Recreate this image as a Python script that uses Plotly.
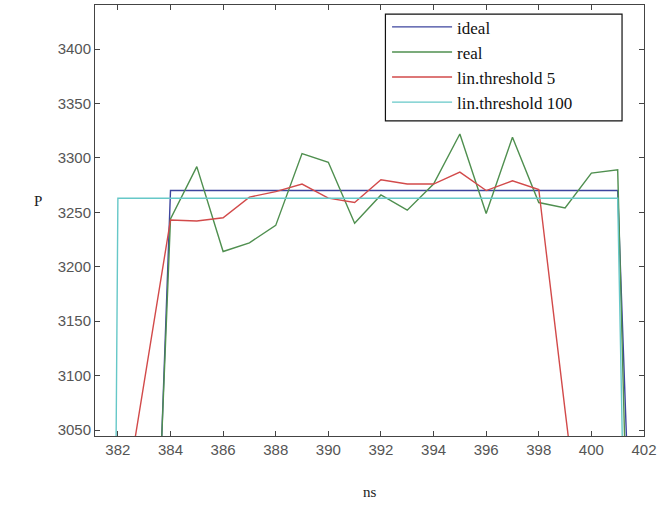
import plotly.graph_objects as go

# ---- data ----
ideal_x = [383, 384, 385, 386, 387, 388, 389, 390, 391, 392, 393, 394, 395, 396, 397, 398, 399, 400, 401, 402]
ideal_y = [2590, 3270, 3270, 3270, 3270, 3270, 3270, 3270, 3270, 3270, 3270, 3270, 3270, 3270, 3270, 3270, 3270, 3270, 3270, 2590]

real_x = [383, 384, 385, 386, 387, 388, 389, 390, 391, 392, 393, 394, 395, 396, 397, 398, 399, 400, 401, 402]
real_y = [2640, 3244, 3292, 3214, 3222, 3238, 3304, 3296, 3240, 3266, 3252, 3276, 3322, 3249, 3319, 3259, 3254, 3286, 3289, 2350]

lin5_x = [382, 383, 384, 385, 386, 387, 388, 389, 390, 391, 392, 393, 394, 395, 396, 397, 398, 399, 400]
lin5_y = [2945, 3094, 3243, 3242, 3245, 3264, 3269, 3276, 3263, 3259, 3280, 3276, 3276, 3287, 3270, 3279, 3271, 3068, 2870]

lin100_x = [381, 382, 383, 384, 385, 386, 387, 388, 389, 390, 391, 392, 393, 394, 395, 396, 397, 398, 399, 400, 401, 402]
lin100_y = [0, 3263, 3263, 3263, 3263, 3263, 3263, 3263, 3263, 3263, 3263, 3263, 3263, 3263, 3263, 3263, 3263, 3263, 3263, 3263, 3263, 2000]

x_ticks = list(range(382, 403, 2))
y_ticks = list(range(3050, 3401, 50))

names = ["ideal", "real", "lin.threshold 5", "lin.threshold 100"]
colors = ["#3d449e", "#4f8f4f", "#d24a4a", "#66c8c8"]

SERIF = "Liberation Serif"

fig = go.Figure()
series = [(ideal_x, ideal_y), (real_x, real_y), (lin5_x, lin5_y), (lin100_x, lin100_y)]
for (xs, ys), name, col in zip(series, names, colors):
    fig.add_trace(go.Scatter(x=xs, y=ys, mode="lines", name=name,
                             line=dict(color=col, width=1.4)))

axis_common = dict(
    showgrid=False, zeroline=False, showline=True, linecolor="#444", linewidth=1,
    mirror="allticks", ticks="inside", ticklen=5, tickcolor="#444",
    tickfont=dict(family="Liberation Sans", size=15, color="#555"),
    ticklabeloverflow="allow",
)

fig.update_xaxes(range=[381.13, 402], tickvals=x_ticks, **axis_common)
fig.update_yaxes(range=[3044.5, 3440.5], tickvals=y_ticks, **axis_common)

fig.add_annotation(text="P", xref="paper", yref="paper", x=-0.114, y=0.545,
                   showarrow=False, font=dict(family=SERIF, size=15, color="#222"))
fig.add_annotation(text="ns", xref="paper", yref="paper", x=0.5, y=-0.13,
                   showarrow=False, yanchor="middle",
                   font=dict(family=SERIF, size=15, color="#222"))

# legend frame
fig.add_shape(type="rect", xref="paper", yref="paper",
              x0=0.529, x1=0.960, y0=0.731, y1=0.979,
              line=dict(color="#111", width=1.2), fillcolor="white", layer="above")

fig.update_layout(
    width=661, height=517,
    margin=dict(l=95, r=12, t=4, b=81),
    paper_bgcolor="white", plot_bgcolor="white",
    showlegend=True,
    legend=dict(x=0.532, y=0.99, xanchor="left", yanchor="top",
                bgcolor="rgba(0,0,0,0)", borderwidth=0,
                font=dict(family=SERIF, size=17, color="#111"),
                itemwidth=60, tracegroupgap=0),
)

fig.write_html("out.html")
